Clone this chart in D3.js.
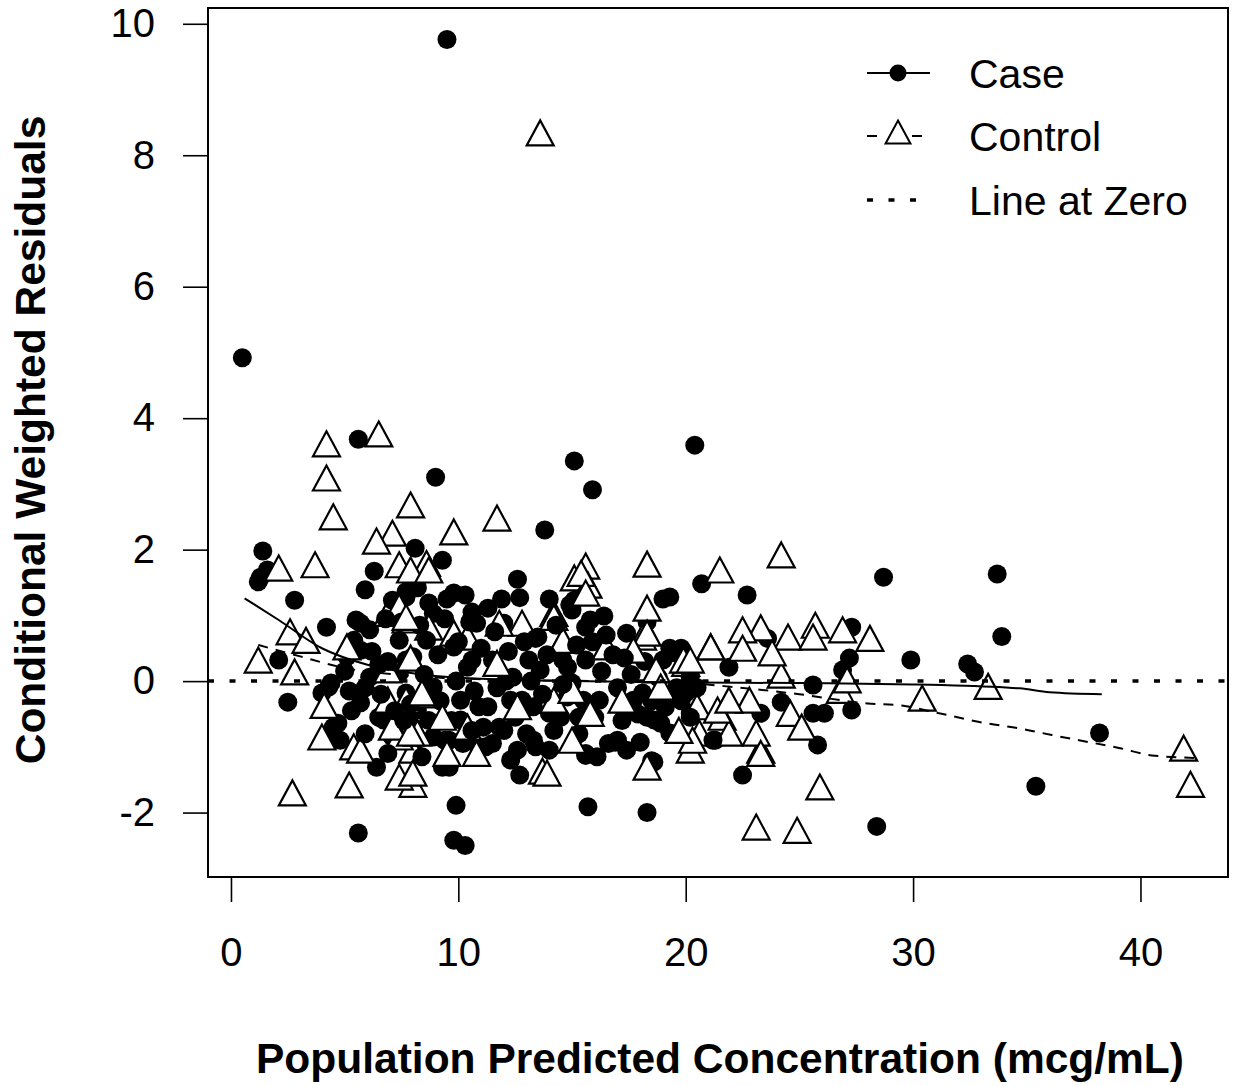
<!DOCTYPE html>
<html>
<head>
<meta charset="utf-8">
<script src="https://cdn.jsdelivr.net/npm/d3@7"></script>
<style>
  html, body { margin: 0; padding: 0; background: #fff; }
  svg { display: block; }
  text { font-family: "Liberation Sans", Arial, sans-serif; fill: #000; }
</style>
</head>
<body>
<svg id="chart" width="1238" height="1086"></svg>
<script>
// Conditional weighted residuals vs population predicted concentration (mcg/mL)
// Case subjects: [concentration, CWRES]
const casePoints = [
  [0.5,4.92],[9.5,9.76],[5.6,3.68],[9.0,3.10],[15.1,3.35],[15.9,2.91],[20.4,3.59],[13.8,2.30],
  [1.4,1.98],[1.2,1.51],[1.6,1.69],[1.3,1.58],[2.8,1.23],[4.2,0.82],[8.1,2.02],[9.3,1.84],
  [6.3,1.67],[12.6,1.55],[12.7,1.27],[28.7,1.58],[33.7,1.63],[33.9,0.68],[29.9,0.32],[32.4,0.26],
  [32.7,0.14],[38.2,-0.79],[35.4,-1.60],[28.4,-2.21],[27.3,-0.44],[27.3,0.82],[27.2,0.35],[26.9,0.17],
  [20.7,1.48],[22.7,1.31],[23.6,0.65],[21.9,0.21],[25.6,-0.06],[24.2,-0.32],[23.3,-0.49],[25.6,-0.49],
  [26.1,-0.49],[21.3,-0.90],[25.8,-0.97],[22.5,-1.43],[20.2,-0.49],[19.8,0.50],
  [9.5,1.25],[10.3,1.31],[11.3,1.11],[19.0,1.25],[19.3,1.28],[18.3,0.90],[16.4,0.99],[15.1,1.23],
  [15.0,1.08],[13.5,0.67],[12.0,0.88],[10.8,0.88],[17.4,0.73],[19.3,0.50],[14.5,0.47],
  [5.9,1.39],[7.7,1.36],[8.2,1.42],[9.8,1.34],[5.5,0.93],[6.1,0.78],[8.7,1.19],[8.9,1.03],
  [2.5,-0.32],[2.1,0.32],[4.3,-0.09],[4.5,-0.70],[4.8,-0.90],[6.4,-1.31],[5.6,-2.31],[9.6,-1.31],
  [9.9,-1.89],[9.8,-2.42],[10.3,-2.50],[5.7,0.47],[7.4,0.12],[8.2,-0.44],[6.7,-0.59],[8.9,-0.85],
  [12.7,-1.43],[15.7,-1.91],[18.3,-2.00],[18.5,-1.21],[12.6,-1.05],[13.4,-1.00],[15.6,-1.13],[16.9,-0.93],
  [18.0,-0.93],[11.2,-1.00],[12.0,-0.75],[10.9,-0.39],[9.9,0.00],[12.8,-0.29],[14.0,-0.49],[14.8,-0.24],
  [15.5,-0.29],[17.7,-0.29],[18.3,-0.55],[18.9,-0.64],[19.4,0.43],[19.3,-0.79],[13.1,0.32],[14.6,0.32],
  [15.0,-0.03],[12.1,0.00],[10.6,0.32],[10.1,-0.59],[9.4,-0.90],[9.3,-1.31],
  [5.7,0.88],[5.4,0.62],[5.1,0.37],[4.4,-0.03],[4.0,-0.18],[4.7,-0.64],[4.4,-0.79],[6.1,0.06],
  [5.7,-0.33],[6.5,-0.55],[7.1,1.23],[7.7,1.28],[7.4,0.62],[8.0,0.37],[7.7,-0.18],[7.1,-0.85],[8.0,-1.00],
  [13.4,0.65],[14.9,1.16],[15.8,0.93],[7.7,0.32],[8.6,0.62],[9.8,0.52],[10.4,0.21],[11.5,0.32],
  [12.4,0.06],[13.6,0.17],[14.8,0.21],[15.6,0.32],[8.9,-0.09],[10.1,-0.29],[11.3,-0.39],[12.3,-0.29],
  [13.3,-0.39],[14.5,-0.55],[15.6,-0.33],[8.0,-0.70],[9.6,-0.90],[10.9,-1.00],[11.8,-0.70],[13.3,-0.90],
  [15.6,-1.10],[15.6,0.82],[18.1,-0.18],[17.5,-0.39],[16.2,-0.29],[18.6,-0.59],[17.0,-0.90],[18.6,-1.23],
  [20.2,-0.55],[21.2,-0.90],[20.0,-0.18],[20.2,0.06],[15.3,-0.55],[19.0,0.32],
  [5.0,0.15],[5.3,-0.45],[5.9,-0.10],[6.2,0.45],[6.6,-0.20],[6.9,0.30],[7.2,-0.45],[7.5,0.90],
  [7.9,-0.35],[8.3,0.85],[8.5,0.10],[8.7,-0.60],[9.1,0.40],[9.2,-0.30],[9.4,0.95],[9.7,-0.60],
  [10.0,0.60],[10.2,-0.95],[10.5,0.90],[10.7,-0.15],[11.0,0.50],[11.1,-0.70],[11.6,0.75],[11.7,-0.10],
  [12.2,0.45],[12.5,-0.55],[12.9,0.60],[13.0,-0.80],[13.2,0.00],[13.7,-0.20],[13.9,0.40],[14.2,-0.75],
  [14.3,0.85],[14.6,-0.05],[15.2,0.55],[15.3,-0.80],[15.9,0.60],[16.0,-0.55],[16.3,0.15],[16.6,-0.95],
  [16.8,0.40],[17.0,-0.10],[17.2,-0.60],[17.6,0.10],[17.9,-0.50],[18.2,0.30],[18.5,-0.30],[18.8,0.05],
  [19.1,-0.40],[19.6,-0.10],[16.5,0.70],[17.3,0.35],[14.0,1.25],[11.9,1.25],[10.6,1.05],[6.8,0.95],
  [6.5,0.25],[5.2,-0.15],[5.9,-0.80],[6.9,-1.10],[7.6,-0.60],[8.4,-1.15],[10.6,-0.75],[11.5,-0.95],
  [12.3,-1.20],[14.0,-1.05],[16.1,-1.15],[17.4,-1.05],[19.8,-0.30],[20.5,-0.10]
];

// Control subjects: [concentration, CWRES]
const controlPoints = [
  [13.6,8.34],[4.2,3.61],[6.5,3.76],[4.2,3.09],[4.5,2.50],[3.7,1.77],[2.1,1.72],[7.9,2.68],
  [9.8,2.27],[7.1,2.25],[6.4,2.13],[11.7,2.48],[8.6,1.79],[7.4,1.77],[15.6,1.75],[15.1,1.57],
  [15.7,1.46],[18.3,1.78],[21.5,1.69],[24.2,1.92],
  [1.2,0.32],[2.6,0.75],[3.3,0.62],[2.8,0.14],[2.7,-1.70],[5.2,-1.58],[8.0,-1.57],[13.7,-1.37],
  [23.1,-2.22],[24.9,-2.27],[25.9,-1.61],[23.3,-1.05],[30.4,-0.26],[33.3,-0.08],[41.9,-1.02],[42.2,-1.57],
  [28.1,0.65],[26.9,0.78],[25.7,0.85],[24.5,0.67],[23.3,0.81],[22.5,0.78],[25.6,0.67],[21.1,0.52],
  [22.5,0.50],[24.2,0.09],[20.0,0.27],[22.8,-0.29],[24.6,-0.49],[26.8,-0.14],[27.1,0.02],[23.1,-0.79],
  [20.5,-0.39],[20.2,-1.05],[21.6,-0.55],[21.9,-0.79],[25.1,-0.70],[20.6,-0.79],
  [6.9,1.03],[7.7,0.93],[8.7,0.82],[14.2,1.03],[12.8,0.88],[18.3,1.11],[18.1,0.67],[9.8,0.73],
  [16.5,0.52],[19.9,0.32],
  [4.1,-0.37],[4.0,-0.85],[7.4,-1.46],[5.4,-1.00],[8.4,-0.21],[8.0,-1.05],[5.1,0.52],[7.9,0.35],
  [6.9,-0.29],[7.4,-0.85],[9.5,-1.10],[7.4,1.13],[6.9,0.17],[7.7,-0.29],[7.1,-0.70],[5.7,-1.05],
  [8.2,-0.79],[7.9,1.69],[8.7,1.69],[15.4,1.64],[14.2,0.97],[15.6,1.34],[7.7,0.97],[10.4,0.67],
  [11.7,0.27],[11.8,0.88],[14.6,0.62],[8.4,-0.18],[14.2,-0.29],[15.0,-0.14],[8.0,-1.40],[10.4,-0.70],
  [10.8,-1.10],[13.9,-1.40],[15.0,-0.90],[12.6,-0.39],[9.3,-0.55],[7.9,-0.79],
  [18.3,0.73],[21.1,0.52],[17.7,0.47],[18.7,0.17],[20.2,0.32],[15.8,-0.49],[20.3,-0.90],[18.3,-1.31],
  [23.3,-1.10],[21.4,-0.44],[21.9,-0.29],[18.9,-0.09],[17.2,-0.29],[19.7,-0.75],[23.8,0.43]
];

// Smoothed trend for each group: [concentration, fitted CWRES]
const caseSmooth = [
  [0.6,1.26],[2.1,0.93],[4.0,0.50],[6.0,0.25],[8.0,0.12],[10.0,0.05],[15.0,0.00],[20.0,-0.02],
  [25.0,-0.03],[30.0,-0.05],[31.3,-0.06],[34.7,-0.11],[36.0,-0.17],[38.3,-0.20]
];
const controlSmooth = [
  [1.2,0.55],[3.0,0.38],[5.0,0.20],[8.0,0.08],[12.0,0.02],[16.0,0.00],[20.0,-0.03],[22.1,-0.09],
  [25.0,-0.20],[28.0,-0.34],[29.5,-0.37],[30.9,-0.47],[33.2,-0.64],[34.7,-0.72],[36.1,-0.82],
  [37.3,-0.90],[39.1,-1.02],[40.5,-1.13],[42.5,-1.17]
];

const xTicks = [0, 10, 20, 30, 40];
const yTicks = [-2, 0, 2, 4, 6, 8, 10];
const legendLabels = ["Case", "Control", "Line at Zero"];

const svg = d3.select("#chart");
const plot = { left: 208, right: 1228, top: 8, bottom: 877 };

const x = d3.scaleLinear().domain([-1.01, 43.85]).range([plot.left, plot.right]);
const y = d3.scaleLinear().domain([-2.98, 10.24]).range([plot.bottom, plot.top]);

// Axes (plain hyphen for negatives)
const fmt = d => String(d);
const xAxis = svg.append("g")
  .attr("transform", `translate(0,${plot.bottom})`)
  .call(d3.axisBottom(x).tickValues(xTicks).tickSize(25).tickPadding(36).tickFormat(fmt));
const yAxis = svg.append("g")
  .attr("transform", `translate(${plot.left},0)`)
  .call(d3.axisLeft(y).tickValues(yTicks).tickSize(25).tickPadding(28).tickFormat(fmt));

[xAxis, yAxis].forEach(g => {
  g.select(".domain").remove();
  g.selectAll(".tick line").attr("stroke", "#000").attr("stroke-width", 1.6);
  g.selectAll(".tick text")
    .attr("font-family", "'Liberation Sans', Arial, sans-serif")
    .attr("font-size", 40)
    .attr("fill", "#000");
});

// Point shapes: filled circle for Case, open triangle for Control
const triangle = {
  draw(ctx, size) {
    const h = Math.sqrt(size);
    ctx.moveTo(0, -h * 0.5);
    ctx.lineTo(h * 0.54, h * 0.5);
    ctx.lineTo(-h * 0.54, h * 0.5);
    ctx.closePath();
  }
};
const circleSymbol = d3.symbol(d3.symbolCircle, Math.PI * 9.5 * 9.5);
const triangleSymbol = d3.symbol(triangle, 625);

// Observations are plotted in recorded order, so the two groups overlap each other
const observations = [];
const nRounds = Math.max(Math.ceil(casePoints.length / 2), controlPoints.length);
for (let i = 0; i < nRounds; i++) {
  if (casePoints[2 * i]) observations.push({ group: "Case", v: casePoints[2 * i] });
  if (casePoints[2 * i + 1]) observations.push({ group: "Case", v: casePoints[2 * i + 1] });
  if (controlPoints[i]) observations.push({ group: "Control", v: controlPoints[i] });
}

svg.append("g").selectAll("path")
  .data(observations)
  .join("path")
  .attr("transform", d => `translate(${x(d.v[0])},${y(d.v[1])})`)
  .attr("d", d => d.group === "Case" ? circleSymbol() : triangleSymbol())
  .attr("fill", d => d.group === "Case" ? "#000" : "#fff")
  .attr("stroke", d => d.group === "Case" ? "none" : "#000")
  .attr("stroke-width", 2.2);

// Reference line at zero and group trends
svg.append("line")
  .attr("x1", plot.left).attr("x2", plot.right)
  .attr("y1", y(0)).attr("y2", y(0))
  .attr("stroke", "#000").attr("stroke-width", 3.5)
  .attr("stroke-dasharray", "6 15.5");

const line = d3.line().x(d => x(d[0])).y(d => y(d[1])).curve(d3.curveMonotoneX);

svg.append("path").datum(caseSmooth)
  .attr("d", line).attr("fill", "none")
  .attr("stroke", "#000").attr("stroke-width", 2);

svg.append("path").datum(controlSmooth)
  .attr("d", line).attr("fill", "none")
  .attr("stroke", "#000").attr("stroke-width", 2)
  .attr("stroke-dasharray", "10 8");

// Plot frame
svg.append("rect")
  .attr("x", plot.left).attr("y", plot.top)
  .attr("width", plot.right - plot.left).attr("height", plot.bottom - plot.top)
  .attr("fill", "none").attr("stroke", "#000").attr("stroke-width", 2);

// Axis titles
svg.append("text")
  .attr("x", 720).attr("y", 1073)
  .attr("text-anchor", "middle")
  .attr("font-size", 42.5).attr("font-weight", "bold")
  .text("Population Predicted Concentration (mcg/mL)");

svg.append("text")
  .attr("transform", "translate(45,440) rotate(-90)")
  .attr("text-anchor", "middle")
  .attr("font-size", 42.5).attr("font-weight", "bold")
  .text("Conditional Weighted Residuals");

// Legend
const legend = svg.append("g");
const rowsY = [73, 136, 200];
const lx0 = 867, lx1 = 930, lxm = 898;

legend.append("line").attr("x1", lx0).attr("x2", lx1).attr("y1", rowsY[0]).attr("y2", rowsY[0])
  .attr("stroke", "#000").attr("stroke-width", 2);
legend.append("circle").attr("cx", lxm).attr("cy", rowsY[0]).attr("r", 8.5).attr("fill", "#000");

legend.append("line").attr("x1", lx0).attr("x2", lx1).attr("y1", rowsY[1]).attr("y2", rowsY[1])
  .attr("stroke", "#000").attr("stroke-width", 2).attr("stroke-dasharray", "10 35 10");
legend.append("path").attr("transform", `translate(${lxm},${rowsY[1] - 4})`)
  .attr("d", d3.symbol(triangle, 530))
  .attr("fill", "#fff").attr("stroke", "#000").attr("stroke-width", 2);

legend.append("line").attr("x1", lx0).attr("x2", lx1 - 10).attr("y1", rowsY[2]).attr("y2", rowsY[2])
  .attr("stroke", "#000").attr("stroke-width", 3.5).attr("stroke-dasharray", "6 15.5");

legend.selectAll("text.lab")
  .data(legendLabels)
  .join("text")
  .attr("class", "lab")
  .attr("x", 969)
  .attr("y", (d, i) => rowsY[i] + 15)
  .attr("font-size", 41)
  .text(d => d);
</script>
</body>
</html>
